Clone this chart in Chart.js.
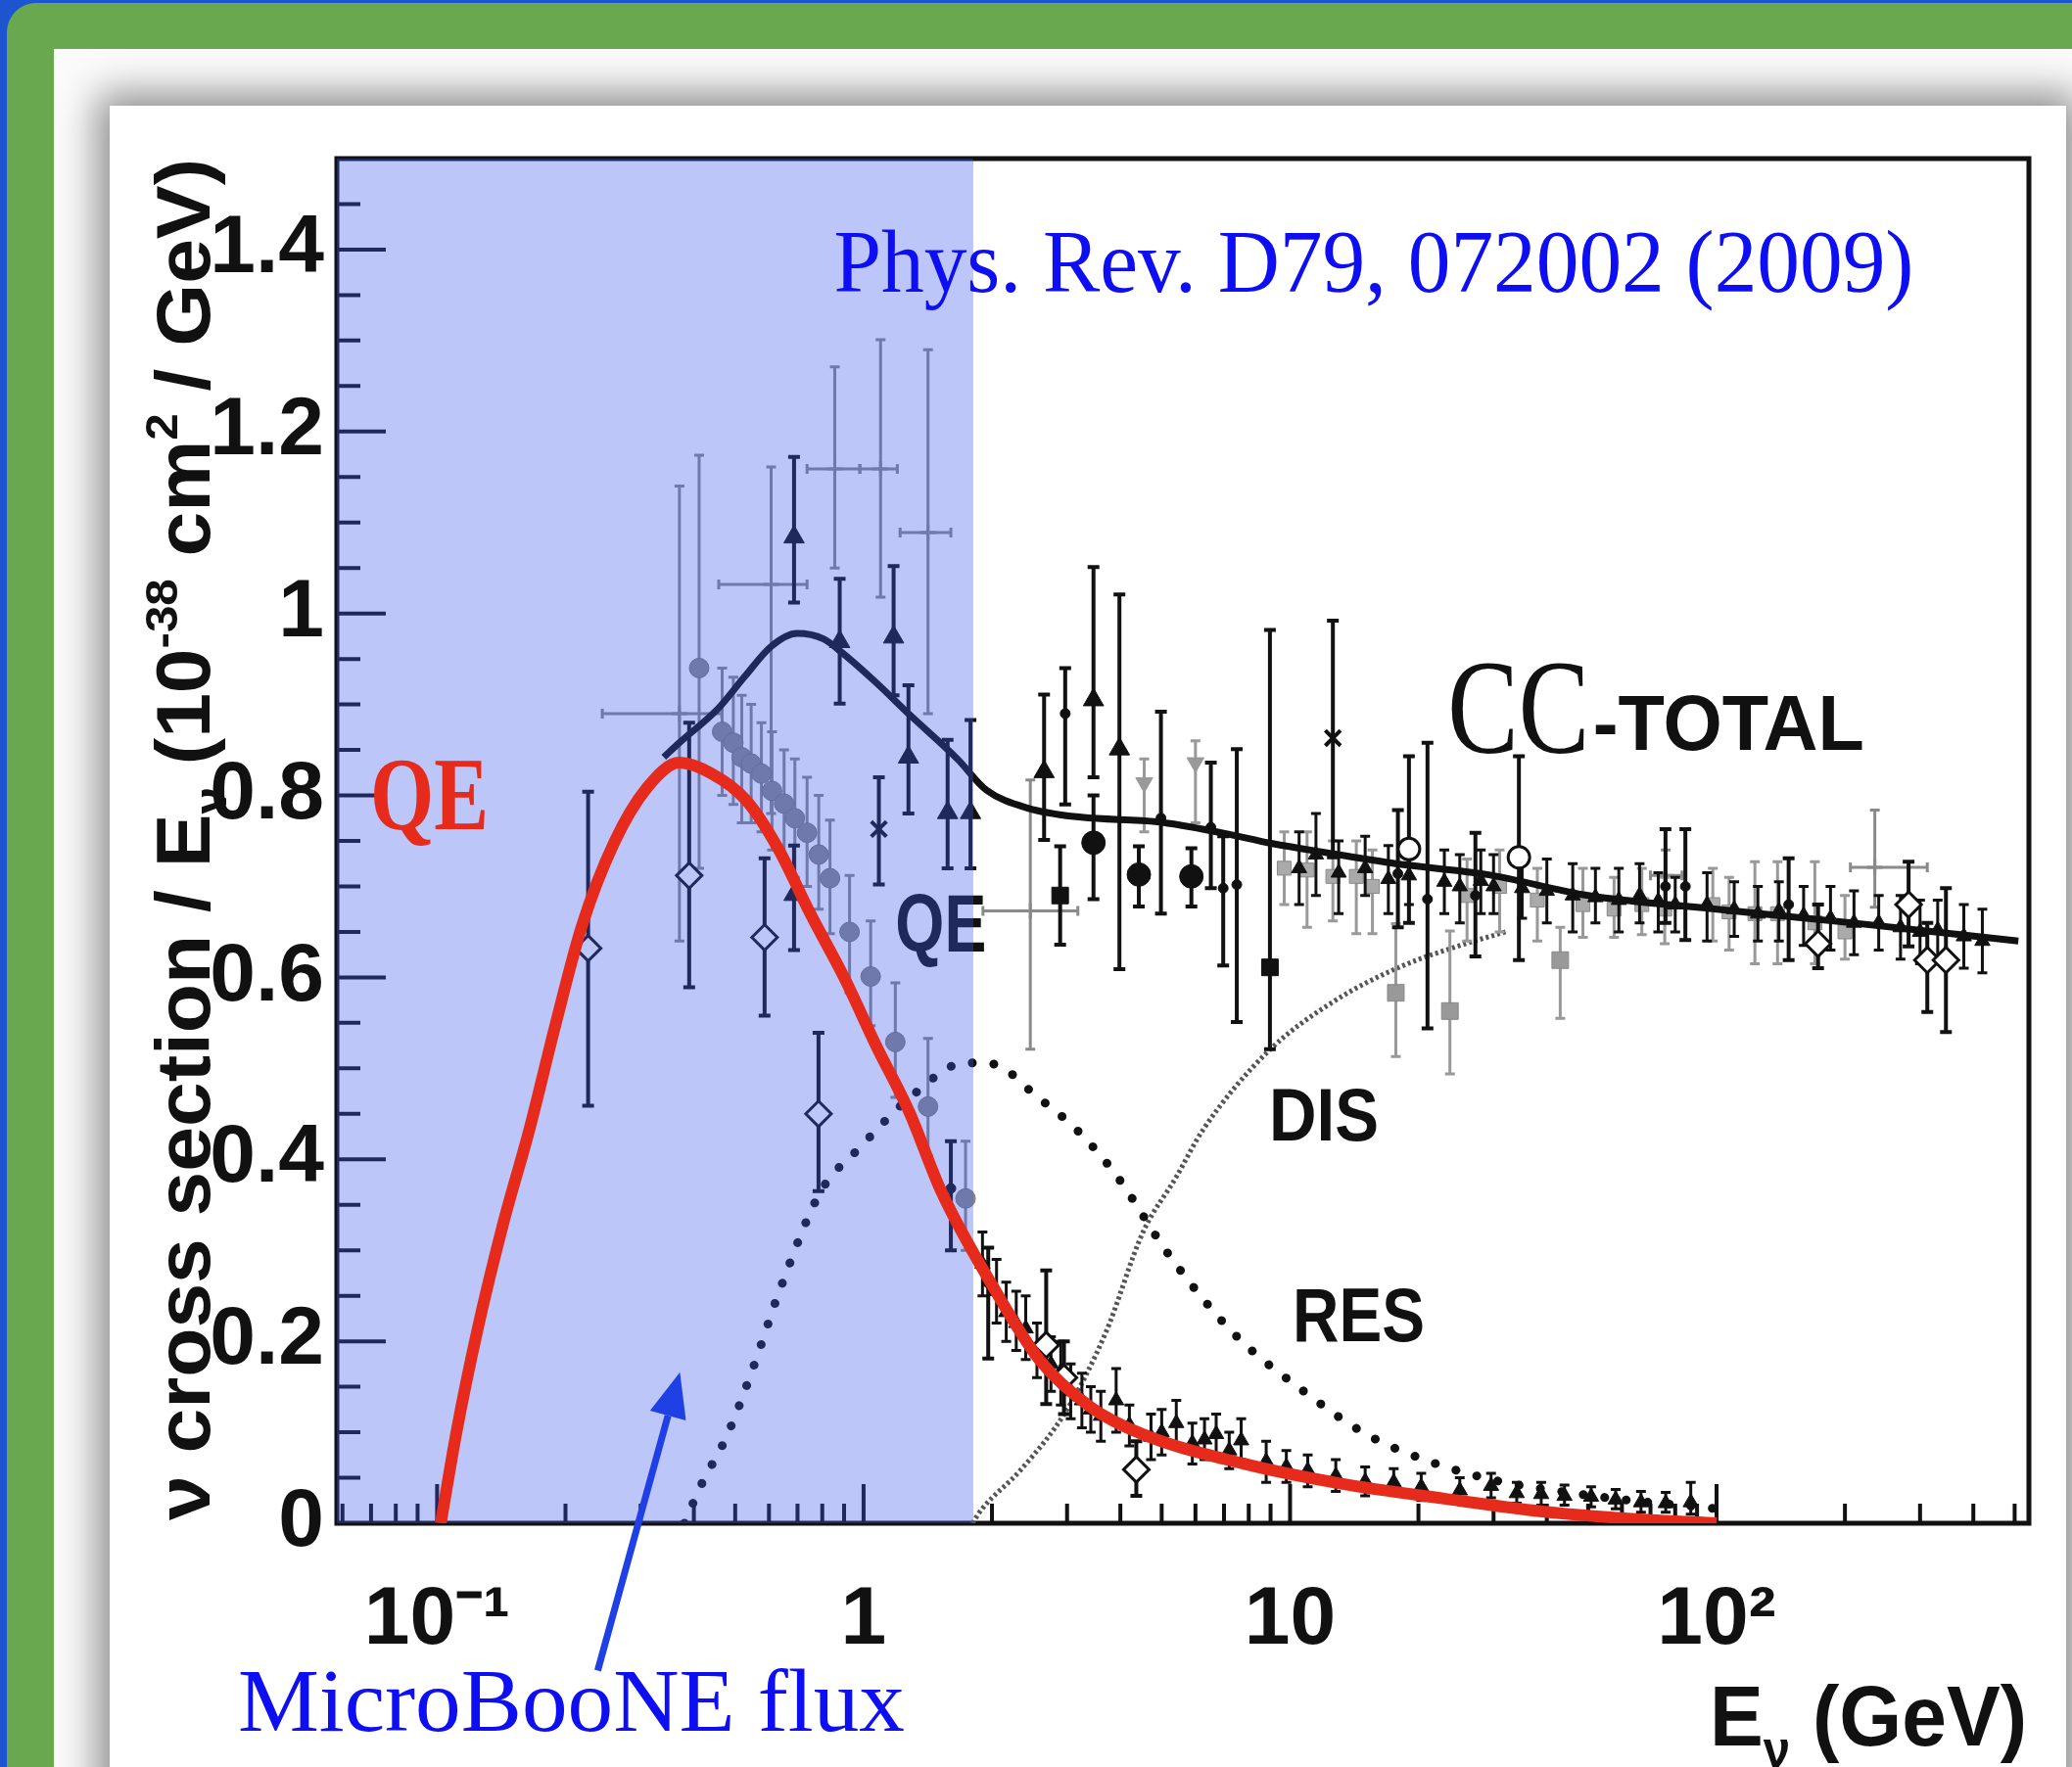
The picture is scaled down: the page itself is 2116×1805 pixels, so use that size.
<!DOCTYPE html>
<html>
<head>
<meta charset="utf-8">
<script src="https://cdn.jsdelivr.net/npm/chart.js@4.4.1/dist/chart.umd.min.js"></script>
<style>
  html, body { margin: 0; padding: 0; }
  body { width: 2116px; height: 1805px; overflow: hidden; position: relative; background: #1c55cf; }
  #green { position: absolute; left: 7px; top: 3px; right: -40px; bottom: -40px; background: #6aa84f; border-top-left-radius: 30px; }
  #panel { position: absolute; left: 55px; top: 50px; right: -40px; bottom: -40px; background: #fbfbfb; overflow: hidden; }
  #sheet { position: absolute; left: 57px; top: 58px; width: 1998px; height: 1900px; background: #fff; box-shadow: 0 0 38px 12px rgba(0,0,0,0.45); }
  canvas { position: absolute; left: 0; top: 0; }
</style>
</head>
<body>
<div id="green"></div>
<div id="panel"><div id="sheet"></div></div>
<canvas id="xsec" width="2116" height="1805"></canvas>
<script>
// axis ranges and tick labels
const X_MIN = 0.0582, X_MAX = 540, Y_MIN = 0, Y_MAX = 1.5;
const X_TICKS = [0.1, 1, 10, 100];
const X_TICK_LABELS = ['10⁻¹', '1', '10', '10²'];
const Y_TICKS = [0, 0.2, 0.4, 0.6, 0.8, 1, 1.2, 1.4];
const Y_TICK_LABELS = ['0', '0.2', '0.4', '0.6', '0.8', '1', '1.2', '1.4'];

// MicroBooNE flux band (GeV)
const SHADE_X = [0.0582, 1.81];
const SHADE_Y = [1.5, 1.5];

// model curves
const QE_X = [0.102, 0.111, 0.124, 0.143, 0.164, 0.19, 0.218, 0.26, 0.31, 0.37, 0.44, 0.53, 0.63, 0.75, 0.9, 1.07, 1.28, 1.52, 2.0, 2.6, 3.4, 4.5, 7.7, 13, 23, 39, 67, 100];
const QE_Y = [0, 0.10, 0.21, 0.33, 0.43, 0.55, 0.655, 0.748, 0.808, 0.836, 0.824, 0.795, 0.742, 0.67, 0.60, 0.525, 0.452, 0.365, 0.262, 0.178, 0.128, 0.098, 0.066, 0.044, 0.027, 0.013, 0.004, 0.0];
const TOTAL_X = [0.34, 0.37, 0.457, 0.527, 0.608, 0.698, 0.805, 0.895, 1.07, 1.28, 1.66, 1.94, 2.43, 3.24, 4.89, 6.9, 9.1, 12.2, 17.7, 29, 50, 100, 207, 510];
const TOTAL_Y = [0.842, 0.858, 0.896, 0.931, 0.964, 0.978, 0.972, 0.956, 0.924, 0.889, 0.84, 0.806, 0.786, 0.776, 0.771, 0.759, 0.747, 0.737, 0.725, 0.713, 0.69, 0.675, 0.66, 0.64];
const RES_X = [0.38, 0.415, 0.479, 0.55, 0.638, 0.792, 0.98, 1.3, 1.73, 2.0, 2.55, 3.2, 3.92, 5.2, 7.4, 10.7, 15.2, 21.8, 31, 44.5, 63, 91, 100];
const RES_Y = [0.0, 0.041, 0.097, 0.17, 0.258, 0.364, 0.413, 0.47, 0.506, 0.505, 0.469, 0.43, 0.382, 0.295, 0.208, 0.146, 0.097, 0.066, 0.046, 0.034, 0.025, 0.018, 0.016];
const DIS_X = [1.8, 1.89, 2.34, 2.99, 3.7, 4.52, 5.4, 6.24, 8.9, 12.8, 18.2, 25, 32];
const DIS_Y = [0, 0.015, 0.059, 0.124, 0.21, 0.32, 0.38, 0.432, 0.519, 0.575, 0.612, 0.635, 0.65];

// measurements: x, y, lower and upper ends of the error bars
const GCROSS_X = [0.37, 0.607, 0.856, 1.096, 1.416, 2.46, 76, 235];
const GCROSS_Y = [0.89, 1.032, 1.159, 1.159, 1.089, 0.673, 0.712, 0.721];
const GCROSS_LO = [0.64, 0.78, 1.05, 1.018, 0.89, 0.521, 0.68, 0.677];
const GCROSS_HI = [1.14, 1.161, 1.271, 1.301, 1.29, 0.817, 0.74, 0.784];
const GCROSS_XLO = [0.244, 0.4575, 0.737, 0.98, 1.218, 1.905, 70, 206];
const GCROSS_XHI = [0.465, 0.737, 0.98, 1.2, 1.602, 3.18, 83, 312];

const GCIRC_X = [0.4115, 0.466, 0.495, 0.518, 0.545, 0.576, 0.61, 0.651, 0.69, 0.737, 0.785, 0.834, 0.927, 1.039, 1.187, 1.416, 1.734];
const GCIRC_Y = [0.940, 0.870, 0.858, 0.842, 0.835, 0.824, 0.805, 0.791, 0.775, 0.759, 0.735, 0.709, 0.650, 0.601, 0.529, 0.458, 0.357];
const GCIRC_LO = [0.72, 0.80, 0.79, 0.77, 0.77, 0.76, 0.74, 0.73, 0.71, 0.70, 0.675, 0.648, 0.583, 0.547, 0.468, 0.404, 0.30];
const GCIRC_HI = [1.174, 0.94, 0.93, 0.91, 0.90, 0.88, 0.87, 0.85, 0.84, 0.82, 0.80, 0.773, 0.712, 0.662, 0.594, 0.533, 0.42];

const DIAM_X = [0.226, 0.390, 0.586, 0.784, 2.68, 2.95, 4.36, 173, 282, 312, 345];
const DIAM_Y = [0.632, 0.712, 0.644, 0.450, 0.196, 0.160, 0.059, 0.637, 0.680, 0.619, 0.619];
const DIAM_LO = [0.459, 0.589, 0.558, 0.365, 0.131, 0.12, 0.03, 0.61, 0.634, 0.562, 0.540];
const DIAM_HI = [0.804, 0.88, 0.731, 0.539, 0.278, 0.20, 0.09, 0.68, 0.727, 0.66, 0.698];

const TRI_X = [0.687, 0.687, 0.879, 1.176, 1.274, 1.574, 1.781, 2.65, 3.46, 3.98];
const TRI_Y = [1.084, 0.691, 0.969, 0.974, 0.842, 0.781, 0.781, 0.826, 0.905, 0.851];
const TRI_LO = [1.012, 0.630, 0.901, 0.910, 0.78, 0.72, 0.72, 0.751, 0.82, 0.609];
const TRI_HI = [1.172, 0.745, 1.038, 1.052, 0.921, 0.861, 0.883, 0.911, 1.051, 1.021];

const DOT_X = [3.46, 4.42, 5.87];
const DOT_Y = [0.748, 0.713, 0.711];
const DOT_LO = [0.686, 0.678, 0.678];
const DOT_HI = [0.80, 0.744, 0.742];

const SQ_X = [2.89, 8.97];
const SQ_Y = [0.690, 0.611];
const SQ_LO = [0.636, 0.521];
const SQ_HI = [0.744, 0.982];

const STAR_X = [1.086, 12.6];
const STAR_Y = [0.763, 0.863];
const STAR_LO = [0.702, 0.732];
const STAR_HI = [0.820, 0.992];

const OCIRC_X = [19.0, 34.4];
const OCIRC_Y = [0.741, 0.732];
const OCIRC_LO = [0.66, 0.619];
const OCIRC_HI = [0.843, 0.843];

const GSQ_X = [17.7, 23.7, 43.0];
const GSQ_Y = [0.583, 0.563, 0.619];
const GSQ_LO = [0.513, 0.494, 0.555];
const GSQ_HI = [0.659, 0.651, 0.655];

const GTRI_X = [4.55, 6.0];
const GTRI_Y = [0.814, 0.836];
const GTRI_LO = [0.76, 0.77];
const GTRI_HI = [0.84, 0.86];

const BAR_X = [1.602, 1.96, 2.97, 4.98, 6.52, 6.97, 7.5, 17.9, 21, 27.2, 75.9, 84.5, 147.6];
const BAR_Y = [0.368, 0.264, 0.890, 0.775, 0.765, 0.698, 0.702, 0.714, 0.686, 0.69, 0.70, 0.70, 0.68];
const BAR_LO = [0.30, 0.181, 0.79, 0.670, 0.698, 0.613, 0.551, 0.655, 0.544, 0.623, 0.66, 0.641, 0.619];
const BAR_HI = [0.42, 0.303, 0.94, 0.892, 0.836, 0.755, 0.851, 0.784, 0.858, 0.759, 0.763, 0.763, 0.731];

const BAND_X = [10.5, 11.5, 13, 15, 17, 19, 23, 25, 28, 30, 35, 40, 46, 52, 59, 66, 73, 80, 95, 110, 125, 140, 160, 185, 210, 240, 270, 300, 330, 380, 420];
const BAND_Y = [0.720, 0.735, 0.715, 0.720, 0.708, 0.712, 0.705, 0.700, 0.706, 0.700, 0.698, 0.695, 0.690, 0.688, 0.685, 0.690, 0.684, 0.680, 0.680, 0.675, 0.670, 0.673, 0.668, 0.665, 0.660, 0.660, 0.655, 0.650, 0.652, 0.645, 0.640];
const BAND_LO = [0.680, 0.690, 0.670, 0.690, 0.670, 0.680, 0.670, 0.660, 0.670, 0.670, 0.665, 0.660, 0.650, 0.660, 0.650, 0.660, 0.650, 0.650, 0.640, 0.645, 0.640, 0.640, 0.635, 0.630, 0.625, 0.630, 0.620, 0.615, 0.620, 0.610, 0.605];
const BAND_HI = [0.760, 0.780, 0.750, 0.755, 0.745, 0.745, 0.740, 0.735, 0.740, 0.735, 0.730, 0.730, 0.725, 0.720, 0.720, 0.725, 0.715, 0.710, 0.715, 0.705, 0.700, 0.705, 0.700, 0.700, 0.695, 0.690, 0.690, 0.685, 0.685, 0.680, 0.675];

const GBAND_X = [9.69, 10.96, 12.6, 14.3, 15.6, 26, 31, 38, 48.6, 57.5, 66.8, 75.6, 98, 107, 123, 139, 170, 200];
const GBAND_Y = [0.720, 0.718, 0.711, 0.711, 0.700, 0.690, 0.700, 0.685, 0.680, 0.675, 0.680, 0.675, 0.680, 0.672, 0.670, 0.670, 0.660, 0.650];
const GBAND_LO = [0.680, 0.655, 0.662, 0.648, 0.648, 0.640, 0.650, 0.640, 0.644, 0.644, 0.647, 0.637, 0.640, 0.630, 0.615, 0.615, 0.615, 0.620];
const GBAND_HI = [0.760, 0.760, 0.750, 0.750, 0.740, 0.730, 0.740, 0.720, 0.720, 0.710, 0.720, 0.710, 0.720, 0.710, 0.727, 0.727, 0.727, 0.690];

const TAIL_X = [1.9, 2.05, 2.16, 2.28, 2.40, 2.55, 2.75, 2.90, 3.06, 3.25, 3.41, 3.6, 3.91, 4.2, 4.72, 5.0, 5.41, 5.9, 6.3, 6.71, 7.2, 7.68, 8.79, 9.8, 11, 12.8, 15, 17.5, 20.3, 25, 29.6, 34, 38.8, 44, 50.8, 58, 66.5, 76, 87];
const TAIL_Y = [0.285, 0.255, 0.232, 0.22, 0.214, 0.19, 0.175, 0.167, 0.145, 0.135, 0.125, 0.118, 0.135, 0.108, 0.095, 0.10, 0.110, 0.088, 0.092, 0.098, 0.08, 0.091, 0.068, 0.062, 0.058, 0.052, 0.046, 0.045, 0.040, 0.036, 0.041, 0.033, 0.032, 0.03, 0.029, 0.026, 0.023, 0.022, 0.023];
const TAIL_LO = [0.25, 0.22, 0.20, 0.19, 0.18, 0.16, 0.145, 0.13, 0.115, 0.105, 0.10, 0.09, 0.10, 0.085, 0.07, 0.075, 0.085, 0.065, 0.07, 0.075, 0.06, 0.07, 0.045, 0.045, 0.04, 0.035, 0.03, 0.032, 0.025, 0.024, 0.028, 0.022, 0.02, 0.02, 0.018, 0.016, 0.012, 0.012, 0.01];
const TAIL_HI = [0.32, 0.29, 0.265, 0.255, 0.25, 0.22, 0.205, 0.20, 0.175, 0.165, 0.15, 0.145, 0.17, 0.13, 0.12, 0.125, 0.135, 0.11, 0.115, 0.12, 0.10, 0.115, 0.09, 0.08, 0.075, 0.07, 0.062, 0.06, 0.055, 0.05, 0.055, 0.045, 0.045, 0.042, 0.04, 0.037, 0.035, 0.034, 0.045];

// text placed in data coordinates
const LABELS_UNDER = [
  { text: 'QE', x: 1.187, y: 0.628, font: "bold 83px 'Liberation Sans'", width: 93 },
  { text: 'DIS', x: 8.93, y: 0.421, font: "bold 76px 'Liberation Sans'", width: 112 },
  { text: 'RES', x: 10.14, y: 0.200, font: "bold 77px 'Liberation Sans'", width: 135 },
  { text: 'CC', x: 23.4, y: 0.847, font: "138px 'Liberation Serif'", width: 145 },
  { text: '-TOTAL', x: 51.3, y: 0.850, font: "bold 80px 'Liberation Sans'", width: 277 }
];
const LABELS_OVER = [
  { text: 'QE', x: 0.0697, y: 0.763, font: "bold 106px 'Liberation Serif'", width: 121, color: '#e62a1b' },
  { text: 'Phys. Rev. D79, 072002 (2009)', x: 0.851, y: 1.354, font: "90px 'Liberation Serif'", width: 1103, color: '#0e0ef2' },
  { text: 'MicroBooNE flux', x: 0.0341, y: -0.228, font: "92px 'Liberation Serif'", width: 681, color: '#0e0ef2' }
];
const ARROW = { x0: 0.238, y0: -0.162, x1: 0.371, y1: 0.166 };

function pts(xs, ys, lo, hi, xlo, xhi) {
  return xs.map((x, i) => ({
    x, y: ys[i],
    lo: lo ? lo[i] : undefined, hi: hi ? hi[i] : undefined,
    xlo: xlo ? xlo[i] : undefined, xhi: xhi ? xhi[i] : undefined
  }));
}

function fitText(ctx, str, x, y, font, color, width) {
  ctx.save();
  ctx.font = font;
  ctx.fillStyle = color;
  ctx.textBaseline = 'alphabetic';
  ctx.textAlign = 'left';
  const w = ctx.measureText(str).width;
  ctx.translate(x, y);
  ctx.scale(width ? width / w : 1, 1);
  ctx.fillText(str, 0, 0);
  ctx.restore();
}

// text with sub/superscripts, drawn from the current origin, squeezed to width
function richText(ctx, parts, size, family, color, width) {
  let total = 0;
  const ws = parts.map(p => {
    ctx.font = `bold ${size * p.s}px ${family}`;
    const w = ctx.measureText(p.t).width;
    total += w;
    return w;
  });
  ctx.save();
  ctx.scale(width / total, 1);
  ctx.fillStyle = color;
  ctx.textBaseline = 'alphabetic';
  ctx.textAlign = 'left';
  let cx = 0;
  parts.forEach((p, i) => {
    ctx.font = `bold ${size * p.s}px ${family}`;
    ctx.fillText(p.t, cx, p.dy * size);
    cx += ws[i];
  });
  ctx.restore();
}

function drawBars(chart, ds) {
  const { ctx, chartArea: a, scales: { x, y } } = chart;
  ctx.save();
  ctx.beginPath();
  ctx.rect(a.left, a.top, a.right - a.left, a.bottom - a.top);
  ctx.clip();
  ctx.strokeStyle = ds.barColor;
  ctx.lineWidth = ds.barWidth;
  const cap = ds.capWidth;
  ds.data.forEach(p => {
    const px = x.getPixelForValue(p.x), py = y.getPixelForValue(p.y);
    ctx.beginPath();
    if (p.lo !== undefined) {
      const t = y.getPixelForValue(p.hi), b = y.getPixelForValue(p.lo);
      ctx.moveTo(px, t); ctx.lineTo(px, b);
      ctx.moveTo(px - cap / 2, t); ctx.lineTo(px + cap / 2, t);
      ctx.moveTo(px - cap / 2, b); ctx.lineTo(px + cap / 2, b);
    }
    if (p.xlo !== undefined) {
      const l = x.getPixelForValue(p.xlo), r = x.getPixelForValue(p.xhi);
      ctx.moveTo(l, py); ctx.lineTo(r, py);
      ctx.moveTo(l, py - cap / 2); ctx.lineTo(l, py + cap / 2);
      ctx.moveTo(r, py - cap / 2); ctx.lineTo(r, py + cap / 2);
    }
    ctx.stroke();
  });
  ctx.restore();
}

const decor = {
  id: 'decor',
  beforeDatasetsDraw(chart) {
    const { ctx, chartArea: a, scales: { x, y } } = chart;
    ctx.save();
    ctx.strokeStyle = '#111';
    // inside tick marks
    ctx.lineWidth = 4;
    ctx.beginPath();
    [0.01, 0.1, 1, 10, 100].forEach(d => {
      for (let m = 1; m <= 9; m++) {
        const v = d * m;
        if (v < X_MIN || v > X_MAX) continue;
        const px = x.getPixelForValue(v);
        const len = X_TICKS.includes(v) ? 40 : 20;
        ctx.moveTo(px, a.bottom); ctx.lineTo(px, a.bottom - len);
      }
    });
    for (let k = 0; k <= 30; k++) {
      const v = k * 0.05;
      const py = y.getPixelForValue(v);
      const len = k % 4 === 0 ? 50 : 24;
      ctx.moveTo(a.left, py); ctx.lineTo(a.left + len, py);
    }
    ctx.stroke();
    // frame
    ctx.lineWidth = 5;
    ctx.strokeRect(a.left, a.top, a.right - a.left, a.bottom - a.top);
    ctx.restore();
    LABELS_UNDER.forEach(l => fitText(ctx, l.text, x.getPixelForValue(l.x), y.getPixelForValue(l.y), l.font, '#111', l.width));
  },
  beforeDatasetDraw(chart, args) {
    const ds = chart.data.datasets[args.index];
    if (ds.barColor) drawBars(chart, ds);
  },
  afterDatasetsDraw(chart) {
    const { ctx, chartArea: a, scales: { x, y } } = chart;
    LABELS_OVER.forEach(l => fitText(ctx, l.text, x.getPixelForValue(l.x), y.getPixelForValue(l.y), l.font, l.color, l.width));

    // arrow to the flux band
    const x0 = x.getPixelForValue(ARROW.x0), y0 = y.getPixelForValue(ARROW.y0);
    const x1 = x.getPixelForValue(ARROW.x1), y1 = y.getPixelForValue(ARROW.y1);
    const ang = Math.atan2(y1 - y0, x1 - x0);
    const head = 46, half = 19;
    const bx = x1 - head * Math.cos(ang), by = y1 - head * Math.sin(ang);
    ctx.save();
    ctx.strokeStyle = '#1f40e4';
    ctx.fillStyle = '#1f40e4';
    ctx.lineWidth = 7;
    ctx.beginPath(); ctx.moveTo(x0, y0); ctx.lineTo(bx, by); ctx.stroke();
    ctx.beginPath();
    ctx.moveTo(x1, y1);
    ctx.lineTo(bx + half * Math.sin(ang), by - half * Math.cos(ang));
    ctx.lineTo(bx - half * Math.sin(ang), by + half * Math.cos(ang));
    ctx.closePath(); ctx.fill();
    ctx.restore();

    const fam = "'Liberation Sans', Arial, sans-serif";
    // y title
    ctx.save();
    ctx.translate(a.left - 130, a.top);
    ctx.rotate(-Math.PI / 2);
    ctx.translate(-1391, 0);
    richText(ctx, [
      { t: 'ν cross section / E', s: 1, dy: 0 },
      { t: 'ν', s: 0.6, dy: 0.22 },
      { t: ' (10', s: 1, dy: 0 },
      { t: '-38', s: 0.6, dy: -0.42 },
      { t: ' cm', s: 1, dy: 0 },
      { t: '2', s: 0.6, dy: -0.42 },
      { t: ' / GeV)', s: 1, dy: 0 }
    ], 78, fam, '#111', 1391);
    ctx.restore();
    // x title
    ctx.save();
    ctx.translate(a.right - 2 - 324, a.bottom + 227);
    richText(ctx, [
      { t: 'E', s: 1, dy: 0 },
      { t: 'ν', s: 0.6, dy: 0.25 },
      { t: ' (GeV)', s: 1, dy: 0 }
    ], 88, fam, '#111', 324);
    ctx.restore();
  }
};

function markers(label, data, style, o) {
  return Object.assign({
    type: 'scatter', label, data, order: 3,
    pointStyle: style, pointRadius: 11, pointBorderWidth: 1,
    pointBackgroundColor: '#111', pointBorderColor: '#111',
    barColor: '#111', barWidth: 4, capWidth: 12
  }, o || {});
}

const datasets = [
  { type: 'line', label: 'QE', data: pts(QE_X, QE_Y), order: 0, borderColor: '#e62a1b', borderWidth: 12, pointRadius: 0, cubicInterpolationMode: 'monotone', fill: false },
  { type: 'line', label: 'MicroBooNE flux', data: pts(SHADE_X, SHADE_Y), order: 1, borderWidth: 0, pointRadius: 0, fill: 'origin', backgroundColor: 'rgba(59,88,235,0.34)' },
  { type: 'line', label: 'CC-TOTAL', data: pts(TOTAL_X, TOTAL_Y), order: 2, borderColor: '#111', borderWidth: 7, pointRadius: 0, cubicInterpolationMode: 'monotone', fill: false },
  markers('triangles', pts(TRI_X, TRI_Y, TRI_LO, TRI_HI), 'triangle', { pointRadius: 12 }),
  markers('circles', pts(DOT_X, DOT_Y, DOT_LO, DOT_HI), 'circle', { pointRadius: 12 }),
  markers('squares', pts(SQ_X, SQ_Y, SQ_LO, SQ_HI), 'rect', { pointRadius: 12 }),
  markers('stars', pts(STAR_X, STAR_Y, STAR_LO, STAR_HI), 'crossRot', { pointBorderWidth: 4 }),
  markers('open diamonds', pts(DIAM_X, DIAM_Y, DIAM_LO, DIAM_HI), 'rectRot', { pointRadius: 13, pointBackgroundColor: '#fff', pointBorderWidth: 3 }),
  markers('open circles', pts(OCIRC_X, OCIRC_Y, OCIRC_LO, OCIRC_HI), 'circle', { pointBackgroundColor: '#fff', pointBorderWidth: 3 }),
  markers('bars', pts(BAR_X, BAR_Y, BAR_LO, BAR_HI), 'circle', { pointRadius: 5 }),
  markers('band', pts(BAND_X, BAND_Y, BAND_LO, BAND_HI), 'triangle', { pointRadius: 9, barWidth: 3, capWidth: 10 }),
  markers('QE data', pts(TAIL_X, TAIL_Y, TAIL_LO, TAIL_HI), 'triangle', { pointRadius: 9, barWidth: 3, capWidth: 10 }),
  markers('gray circles', pts(GCIRC_X, GCIRC_Y, GCIRC_LO, GCIRC_HI), 'circle', { pointRadius: 10, pointBackgroundColor: '#8a8a8a', pointBorderColor: '#777', barColor: '#8a8a8a', barWidth: 3, capWidth: 10 }),
  markers('gray crosses', pts(GCROSS_X, GCROSS_Y, GCROSS_LO, GCROSS_HI, GCROSS_XLO, GCROSS_XHI), 'cross', { pointRadius: 8, pointBorderWidth: 3, pointBorderColor: '#8a8a8a', barColor: '#8a8a8a', barWidth: 3, capWidth: 10 }),
  markers('gray squares', pts(GSQ_X, GSQ_Y, GSQ_LO, GSQ_HI), 'rect', { pointRadius: 12, pointBackgroundColor: '#999', pointBorderColor: '#888', barColor: '#999', barWidth: 3, capWidth: 10 }),
  markers('gray band', pts(GBAND_X, GBAND_Y, GBAND_LO, GBAND_HI), 'rect', { pointRadius: 10, pointBackgroundColor: '#aaa', pointBorderColor: '#888', barColor: '#999', barWidth: 3, capWidth: 10 }),
  markers('gray triangles', pts(GTRI_X, GTRI_Y, GTRI_LO, GTRI_HI), 'triangle', { pointRadius: 10, pointRotation: 180, pointBackgroundColor: '#999', pointBorderColor: '#999', barColor: '#999', barWidth: 3, capWidth: 10 }),
  { type: 'line', label: 'RES', data: pts(RES_X, RES_Y), order: 4, borderColor: '#111', borderWidth: 9, borderDash: [0.1, 22], borderCapStyle: 'round', pointRadius: 0, cubicInterpolationMode: 'monotone', fill: false },
  { type: 'line', label: 'DIS', data: pts(DIS_X, DIS_Y), order: 4, borderColor: '#555', borderWidth: 5, borderDash: [3, 3], pointRadius: 0, cubicInterpolationMode: 'monotone', fill: false }
];

const tickFont = { family: "'Liberation Sans', Arial, sans-serif", size: 84, weight: 'bold' };

new Chart(document.getElementById('xsec').getContext('2d'), {
  type: 'scatter',
  data: { datasets },
  options: {
    responsive: false,
    animation: false,
    events: [],
    layout: { padding: { left: 0, top: 162, right: 44, bottom: 99 } },
    plugins: { legend: { display: false }, tooltip: { enabled: false } },
    scales: {
      x: {
        type: 'logarithmic', min: X_MIN, max: X_MAX,
        afterFit: s => { s.height = 150; },
        afterBuildTicks: s => { s.ticks = X_TICKS.map(v => ({ value: v })); },
        grid: { display: false, drawTicks: false },
        border: { display: false },
        ticks: {
          autoSkip: false, maxRotation: 0, padding: 49, color: '#111', font: tickFont,
          callback: v => X_TICK_LABELS[X_TICKS.indexOf(v)]
        }
      },
      y: {
        min: Y_MIN, max: Y_MAX,
        afterFit: s => { s.width = 344; },
        afterBuildTicks: s => { s.ticks = Y_TICKS.map(v => ({ value: v })); },
        grid: { display: false, drawTicks: false },
        border: { display: false },
        ticks: {
          padding: 13, color: '#111', font: tickFont,
          callback: v => Y_TICK_LABELS[Y_TICKS.indexOf(v)]
        }
      }
    }
  },
  plugins: [decor]
});
</script>
</body>
</html>
